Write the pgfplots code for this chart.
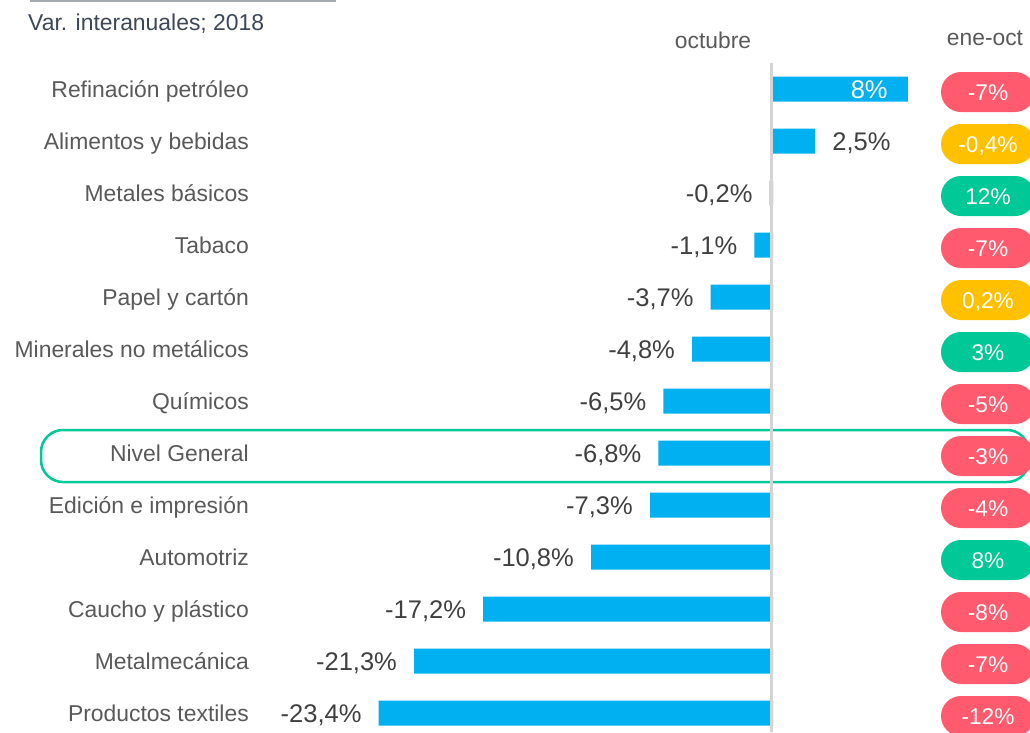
\documentclass[border=0pt]{standalone}
\usepackage{pgfplots}
\pgfplotsset{compat=1.18}
\usepackage{fontspec}
\setmainfont{Liberation Sans}
\definecolor{barblue}{HTML}{00B0F0}
\definecolor{pillred}{HTML}{FF5A6E}
\definecolor{pillyellow}{HTML}{FFC000}
\definecolor{pillgreen}{HTML}{00C896}
\definecolor{txtgray}{HTML}{595959}
\definecolor{valgray}{HTML}{404040}
\definecolor{hdr}{HTML}{3C4858}
\definecolor{zeroline}{HTML}{D4D4D4}
\definecolor{topline}{HTML}{A6ABB2}
\tikzset{pill/.style={fill=#1, text=white, rounded corners=20pt, minimum width=94pt, minimum height=40pt, inner sep=0pt, text height=16.3pt, text depth=0pt, font=\fontsize{22.7}{27}\selectfont, anchor=center, yshift=-3pt}}
\begin{document}
\begin{tikzpicture}
\draw[pillgreen, line width=2.5pt, rounded corners=22pt] (41pt,250pt) rectangle (1029pt,302pt);
\begin{axis}[at={(249pt,0pt)}, anchor=south west, scale only axis,
  width=781pt, height=732pt,
  xmin=-31.098, xmax=15.252, ymin=-1.7115, ymax=12.3654, y dir=reverse,
  axis line style={draw=none}, xtick=\empty,
  ytick={0,...,12},
  yticklabels={Refinación petróleo, Alimentos y bebidas, Metales básicos, Tabaco, {Papel y cartón\ }, Minerales no metálicos, Químicos, Nivel General, {Edición e impresión\ }, Automotriz, Caucho y plástico, Metalmecánica, Productos textiles},
  major tick length=0pt,
  yticklabel style={anchor=east, inner sep=0pt, text height=16.4pt, text depth=0pt, font=\fontsize{22.9}{27}\selectfont, text=txtgray},
  clip=false]
\addplot[xbar, bar width=25pt, bar shift=0pt, fill=barblue, draw=none]
  coordinates {(8,0) (2.5,1) (-0.2,2) (-1.1,3) (-3.7,4) (-4.8,5) (-6.5,6) (-6.8,7) (-7.3,8) (-10.8,9) (-17.2,10) (-21.3,11) (-23.4,12)};
\draw[color=zeroline, line width=2.5pt] (axis cs:-0.09,-0.5) -- (axis cs:-0.09,12.3654);
% value labels, negative
\addplot[draw=none, mark=none, point meta=explicit symbolic,
  nodes near coords={\pgfplotspointmeta\%},
  every node near coord/.style={anchor=east, inner sep=0pt, text height=18.3pt, text depth=0pt, xshift=-17pt, text=valgray, font=\fontsize{25.5}{30}\selectfont}]
  table[meta=l] {
x y l
-0.2 2 -0,2
-1.1 3 -1,1
-3.7 4 -3,7
-4.8 5 -4,8
-6.5 6 -6,5
-6.8 7 -6,8
-7.3 8 -7,3
-10.8 9 -10,8
-17.2 10 -17,2
-21.3 11 -21,3
-23.4 12 -23,4
};
\addplot[draw=none, mark=none, point meta=explicit symbolic,
  nodes near coords={\pgfplotspointmeta\%},
  every node near coord/.style={anchor=west, inner sep=0pt, text height=18.3pt, text depth=0pt, xshift=17pt, text=valgray, font=\fontsize{25.5}{30}\selectfont}]
  table[meta=l] {
x y l
2.5 1 2,5
};
\addplot[draw=none, mark=none, point meta=explicit symbolic,
  nodes near coords={\pgfplotspointmeta\%},
  every node near coord/.style={anchor=east, inner sep=0pt, text height=18.3pt, text depth=0pt, xshift=-20pt, text=white, font=\fontsize{25.5}{30}\selectfont}]
  table[meta=l] {
x y l
8 0 8
};
% ene-oct pills
\addplot[draw=none, mark=none, point meta=explicit symbolic,
  nodes near coords={\pgfplotspointmeta\%},
  every node near coord/.style={pill=pillred}]
  table[meta=l] {
x y l
12.76 0 -7
12.76 3 -7
12.76 6 -5
12.76 7 -3
12.76 8 -4
12.76 10 -8
12.76 11 -7
12.76 12 -12
};
\addplot[draw=none, mark=none, point meta=explicit symbolic,
  nodes near coords={\pgfplotspointmeta\%},
  every node near coord/.style={pill=pillyellow}]
  table[meta=l] {
x y l
12.76 1 -0,4
12.76 4 0,2
};
\addplot[draw=none, mark=none, point meta=explicit symbolic,
  nodes near coords={\pgfplotspointmeta\%},
  every node near coord/.style={pill=pillgreen}]
  table[meta=l] {
x y l
12.76 2 12
12.76 5 3
12.76 9 8
};
\end{axis}
\draw[color=topline, line width=2pt] (30pt,731pt) -- (336pt,731pt);
\node[anchor=west, inner sep=0pt, text=hdr, font=\fontsize{22.9}{27}\selectfont] at (28pt,708pt) {Var. interanuales; 2018};
\node[inner sep=0pt, text=txtgray, font=\fontsize{22.8}{27}\selectfont] at (713pt,692pt) {octubre};
\node[inner sep=0pt, text=txtgray, font=\fontsize{22.8}{27}\selectfont] at (985pt,694pt) {ene-oct};
\pgfresetboundingbox
\useasboundingbox (0pt,0pt) rectangle (1030pt,732pt);
\end{tikzpicture}
\end{document}
